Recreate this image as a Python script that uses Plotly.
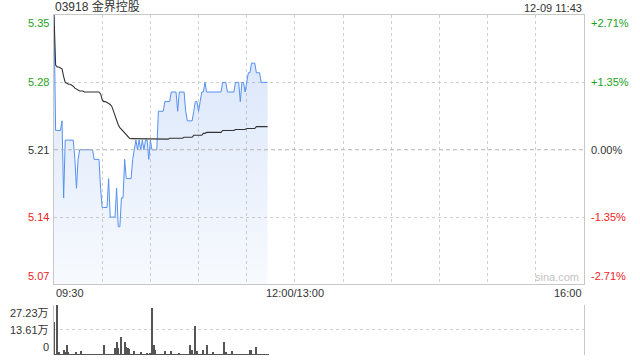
import plotly.graph_objects as go

# ---------------- data ----------------
TITLE = "03918 金界控股"
STAMP = "12-09 11:43"
PREV_CLOSE = 5.21
TOTAL_MINUTES = 330          # 09:30-12:00 + 13:00-16:00
GRID_STEP = 30

PRICE_TICKS = [5.35, 5.28, 5.21, 5.14, 5.07]
PCT_LABELS = ["+2.71%", "+1.35%", "0.00%", "-1.35%", "-2.71%"]
TIME_LABELS = ["09:30", "12:00/13:00", "16:00"]
TIME_LABEL_POS = [0, 150, 330]
VOL_TICKS = [0, 13.61, 27.23]
VOL_LABELS = ["0", "13.61万", "27.23万"]

# one value per minute from 09:30 to 11:43
price = [
    5.35, 5.23, 5.23, 5.23, 5.23, 5.24, 5.16, 5.22, 5.22, 5.22,
    5.22, 5.22, 5.22, 5.20, 5.17, 5.20, 5.21, 5.21, 5.21, 5.21,
    5.21, 5.21, 5.21, 5.21, 5.21, 5.20, 5.20, 5.20, 5.20, 5.17,
    5.15, 5.15, 5.15, 5.15, 5.18, 5.14, 5.14, 5.14, 5.14, 5.17,
    5.13, 5.13, 5.16, 5.16, 5.20, 5.18, 5.18, 5.18, 5.18, 5.20,
    5.21, 5.22, 5.21, 5.22, 5.21, 5.22, 5.21, 5.22, 5.22, 5.20,
    5.22, 5.21, 5.21, 5.21, 5.21, 5.25, 5.25, 5.25, 5.25, 5.26,
    5.26, 5.26, 5.26, 5.27, 5.27, 5.27, 5.27, 5.25, 5.27, 5.27,
    5.27, 5.27, 5.25, 5.24, 5.24, 5.24, 5.24, 5.25, 5.26, 5.26,
    5.25, 5.26, 5.27, 5.27, 5.28, 5.27, 5.27, 5.27, 5.27, 5.27,
    5.27, 5.27, 5.27, 5.27, 5.27, 5.28, 5.28, 5.28, 5.27, 5.27,
    5.27, 5.27, 5.27, 5.28, 5.28, 5.28, 5.26, 5.28, 5.28, 5.27,
    5.28, 5.29, 5.29, 5.30, 5.30, 5.30, 5.29, 5.29, 5.29, 5.28,
    5.28, 5.28, 5.28, 5.28,
]

avg_price = [
    5.350, 5.298, 5.296, 5.296, 5.295, 5.294, 5.286, 5.280, 5.279, 5.278,
    5.278, 5.277, 5.276, 5.274, 5.273, 5.272, 5.271, 5.271, 5.271, 5.270,
    5.270, 5.270, 5.270, 5.270, 5.270, 5.270, 5.270, 5.270, 5.270, 5.268,
    5.262, 5.260, 5.260, 5.259, 5.258, 5.257, 5.255, 5.250, 5.244, 5.240,
    5.236, 5.233, 5.231, 5.229, 5.227, 5.225, 5.223, 5.222, 5.2215, 5.2215,
    5.2215, 5.2215, 5.2215, 5.2215, 5.2215, 5.2215, 5.2215, 5.2215, 5.2215, 5.2215,
    5.2215, 5.221, 5.221, 5.221, 5.221, 5.221, 5.221, 5.221, 5.221, 5.221,
    5.221, 5.221, 5.222, 5.222, 5.222, 5.222, 5.222, 5.222, 5.222, 5.222,
    5.222, 5.223, 5.223, 5.223, 5.223, 5.223, 5.223, 5.225, 5.225, 5.225,
    5.225, 5.225, 5.225, 5.227, 5.227, 5.228, 5.228, 5.228, 5.228, 5.228,
    5.228, 5.228, 5.228, 5.228, 5.228, 5.230, 5.230, 5.230, 5.230, 5.230,
    5.230, 5.230, 5.230, 5.231, 5.231, 5.231, 5.231, 5.231, 5.231, 5.231,
    5.232, 5.232, 5.232, 5.232, 5.232, 5.232, 5.234, 5.234, 5.234, 5.234,
    5.234, 5.234, 5.234, 5.234,
]

# volume per minute, in 万 shares
volume = [
    17.96, 0.6, 27.23, 1.8, 0.8, 0.5, 3.2, 1.8, 5.4, 1.8,
    0.6, 0.4, 0.9, 0.5, 1.8, 0.4, 0.6, 2.2, 0.5, 0.4,
    0.5, 0.3, 0.6, 0.4, 0.5, 0.3, 0.4, 0.6, 0.5, 0.8,
    0.6, 5.4, 0.4, 0.3, 0.5, 0.6, 0.4, 0.8, 4.1, 7.5,
    3.9, 0.6, 9.9, 0.8, 7.2, 4.5, 3.9, 3.6, 0.6, 0.5,
    2.2, 0.4, 0.5, 0.6, 1.8, 0.4, 0.5, 0.6, 1.4, 0.8,
    1.2, 25.5, 5.9, 3.2, 0.6, 0.8, 0.5, 0.4, 0.6, 2.3,
    0.5, 0.4, 0.6, 2.2, 0.5, 0.4, 0.3, 0.5, 1.3, 0.4,
    0.5, 0.3, 0.6, 0.5, 0.8, 5.4, 3.2, 0.6, 15.8, 2.3,
    0.5, 0.4, 0.6, 3.2, 0.8, 5.4, 0.6, 0.4, 0.5, 1.8,
    0.4, 0.5, 0.3, 0.6, 0.8, 0.5, 7.2, 1.8, 0.5, 0.4,
    0.6, 2.2, 0.5, 0.4, 0.3, 0.5, 0.6, 0.4, 0.5, 0.3,
    0.6, 0.5, 3.2, 3.2, 0.8, 0.5, 4.5, 0.6, 0.9, 0.5,
    0.4, 0.5, 0.3, 0.4,
]

# ---------------- style ----------------
FONT = "Liberation Sans, Arial, Noto Sans CJK SC, sans-serif"
GREEN = "#1ca01c"
RED = "#f02222"
DARK = "#333333"
GRID = "#cfcfcf"
BORDER = "#c8c8c8"

minutes = list(range(len(price)))
y_lo, y_hi = min(PRICE_TICKS), max(PRICE_TICKS)

fig = go.Figure()

fig.add_trace(go.Scatter(
    x=minutes, y=price, mode="lines",
    line=dict(color="#5590ee", width=1),
    fill="tozeroy",
    fillgradient=dict(type="vertical", start=y_lo, stop=5.30,
                      colorscale=[[0, "rgba(100,150,235,0.05)"],
                                  [1, "rgba(100,150,235,0.22)"]]),
    hoverinfo="skip", xaxis="x", yaxis="y",
))
fig.add_trace(go.Scatter(
    x=minutes, y=avg_price, mode="lines",
    line=dict(color="#333333", width=1.1),
    hoverinfo="skip", xaxis="x", yaxis="y",
))
fig.add_trace(go.Bar(
    x=minutes, y=volume, width=0.7,
    marker=dict(color="#555555", line=dict(width=0)),
    hoverinfo="skip", xaxis="x2", yaxis="y2",
))

MAIN_BOTTOM = 0.2074
VOL_TOP = 0.1485

fig.update_layout(
    width=640, height=360,
    margin=dict(l=54, r=56, t=15, b=5),
    paper_bgcolor="white", plot_bgcolor="white",
    showlegend=False,
    font=dict(family=FONT, size=11, color=DARK),
    xaxis=dict(domain=[0, 1], anchor="y", range=[0, TOTAL_MINUTES],
               tickvals=list(range(0, TOTAL_MINUTES + 1, GRID_STEP)),
               showticklabels=False, ticks="",
               showgrid=True, gridcolor=GRID, griddash="dot", gridwidth=1,
               showline=True, linecolor=BORDER, linewidth=1, mirror=True,
               zeroline=False),
    yaxis=dict(domain=[MAIN_BOTTOM, 1], anchor="x", range=[y_lo, y_hi],
               tickvals=[v for v in PRICE_TICKS if v not in (y_lo, y_hi, PREV_CLOSE)],
               showticklabels=False, ticks="",
               showgrid=True, gridcolor=GRID, griddash="dot", gridwidth=1,
               showline=True, linecolor=BORDER, linewidth=1, mirror=True,
               zeroline=False),
    xaxis2=dict(domain=[0, 1], anchor="y2", range=[0, TOTAL_MINUTES],
                showticklabels=False, ticks="", showgrid=False,
                showline=False, zeroline=False),
    yaxis2=dict(domain=[0, VOL_TOP], anchor="x2", range=[0, max(VOL_TICKS)],
                tickvals=VOL_TICKS[1:], showticklabels=False, ticks="",
                showgrid=True, gridcolor=GRID, griddash="dot", gridwidth=1,
                showline=True, linecolor=BORDER, linewidth=1, mirror=True,
                zeroline=False),
    bargap=0,
)

# previous-close dashed line
fig.add_shape(type="line", xref="x domain", x0=0, x1=1, yref="y",
              y0=PREV_CLOSE, y1=PREV_CLOSE,
              line=dict(color="#b4b4b4", width=1, dash="4px,3px"), layer="above")

ann = []
def col(v):
    if v > PREV_CLOSE + 1e-9:
        return GREEN
    if v < PREV_CLOSE - 1e-9:
        return RED
    return DARK

for v, pct in zip(PRICE_TICKS, PCT_LABELS):
    ya = "top" if v == y_hi else ("bottom" if v == y_lo else "middle")
    ann.append(dict(text=f"{v:.2f}", xref="paper", x=0, xanchor="right", xshift=-3,
                    yref="y", y=v, yanchor=ya, showarrow=False,
                    font=dict(color=col(v), size=11)))
    ann.append(dict(text=pct, xref="paper", x=1, xanchor="left", xshift=5,
                    yref="y", y=v, yanchor=ya, showarrow=False,
                    font=dict(color=col(v), size=11)))

for v, lab in zip(VOL_TICKS, VOL_LABELS):
    ya = "top" if v == max(VOL_TICKS) else ("bottom" if v == 0 else "middle")
    ann.append(dict(text=lab, xref="paper", x=0, xanchor="right", xshift=-3,
                    yref="y2", y=v, yanchor=ya, showarrow=False,
                    font=dict(color=DARK, size=11)))

for pos, lab in zip(TIME_LABEL_POS, TIME_LABELS):
    xa = "left" if pos == 0 else ("right" if pos == TOTAL_MINUTES else "center")
    ann.append(dict(text=lab, xref="x", x=pos, xanchor=xa,
                    yref="paper", y=MAIN_BOTTOM, yanchor="top", yshift=-1,
                    showarrow=False, font=dict(color=DARK, size=11)))

ann.append(dict(text=TITLE, xref="paper", x=0, xanchor="left", xshift=-1,
                yref="paper", y=1, yanchor="bottom", yshift=-1, showarrow=False,
                font=dict(color=DARK, size=12)))
ann.append(dict(text=STAMP, xref="paper", x=1, xanchor="right",
                yref="paper", y=1, yanchor="bottom", yshift=-1, showarrow=False,
                font=dict(color=DARK, size=11)))
ann.append(dict(text="sina.com", xref="x", x=313, xanchor="center",
                yref="y", y=y_lo, yanchor="bottom", yshift=-1, showarrow=False,
                font=dict(color="#c4c4c4", size=11)))

fig.update_layout(annotations=ann)

fig.write_html("out.html")
